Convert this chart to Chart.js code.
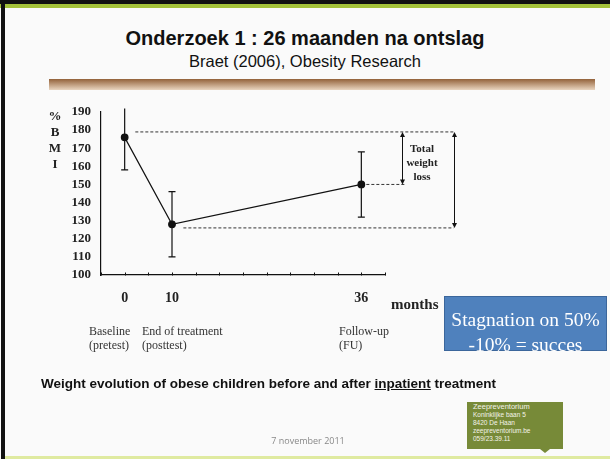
<!DOCTYPE html>
<html>
<head>
<meta charset="utf-8">
<script src="https://cdn.jsdelivr.net/npm/chart.js@4.4.0/dist/chart.umd.min.js"></script>
<style>
  html, body { margin: 0; padding: 0; }
  body { width: 610px; height: 459px; position: relative; overflow: hidden; background: #fafafa;
         font-family: "Liberation Sans", Arial, sans-serif; }
  #chart { position: absolute; left: 0; top: 0; }
  .abs { position: absolute; white-space: nowrap; }
  .serif { font-family: "Liberation Serif", "Times New Roman", serif; }
</style>
</head>
<body>
<div class="abs" style="left:0;top:0;width:610px;height:4px;background:#111"></div>
<div class="abs" style="left:0;top:4px;width:610px;height:4px;background:#a4c23a"></div>
<div class="abs" style="left:1px;top:0;width:4px;height:459px;background:#111"></div>
<div class="abs" style="left:5px;top:456px;width:605px;height:3px;background:#dfeaa0"></div>

<div class="abs" style="left:0;width:610px;top:26px;text-align:center;font-weight:bold;font-size:20px;line-height:24px;color:#111">Onderzoek 1 : 26 maanden na ontslag</div>
<div class="abs" style="left:0;width:610px;top:51px;text-align:center;font-size:16.5px;line-height:20px;color:#111">Braet (2006), Obesity Research</div>
<div class="abs" style="left:49px;top:79px;width:546px;height:11px;background:linear-gradient(#93623a,#e9d5c0)"></div>

<canvas id="chart" width="610" height="459"></canvas>

<div class="abs serif" style="left:45px;width:20px;top:108px;text-align:center;font-weight:bold;font-size:13px;line-height:16px;color:#222;white-space:normal">%<br>B<br>M<br>I</div>
<div class="abs serif" style="left:391px;top:295px;font-weight:bold;font-size:15px;line-height:18px;color:#222">months</div>
<div class="abs serif" style="left:401px;width:42px;top:141px;text-align:center;font-weight:bold;font-size:11px;line-height:14px;color:#222;white-space:normal">Total<br>weight<br>loss</div>

<div class="abs serif" style="left:89px;top:325px;font-size:12px;line-height:13.5px;color:#333">Baseline<br>(pretest)</div>
<div class="abs serif" style="left:142px;top:325px;font-size:12px;line-height:13.5px;color:#333">End of treatment<br>(posttest)</div>
<div class="abs serif" style="left:339px;top:325px;font-size:12px;line-height:13.5px;color:#333">Follow-up<br>(FU)</div>

<div class="abs serif" style="left:444px;top:296px;width:161px;height:53px;background:#4f81bd;border:1px solid #3b669b;color:#fff;font-size:19.5px;line-height:25px;text-align:center">
  <div style="margin-top:10px">Stagnation on 50%</div><div>-10% = succes</div>
</div>

<div class="abs" style="left:41px;top:376px;font-weight:bold;font-size:13.5px;line-height:16px;color:#111">Weight evolution of obese children before and after <span style="text-decoration:underline">inpatient</span> treatment</div>

<div class="abs" style="left:218px;width:180px;top:435px;text-align:center;font-family:'Open Sans',sans-serif;font-size:9px;line-height:12px;color:#888">7 november 2011</div>

<div class="abs" style="left:467px;top:402px;width:96px;height:47px;background:#778a38;color:#f4f4ea;font-size:6.5px;line-height:8px;box-sizing:border-box;padding:1px 0 0 6px">
  <div style="font-size:7.5px">Zeepreventorium</div>
  <div>Koninklijke baan 5</div>
  <div>8420 De Haan</div>
  <div>zeepreventorium.be</div>
  <div>059/23.39.11</div>
</div>
<div class="abs" style="left:540px;top:449px;width:0;height:0;border-left:5px solid transparent;border-right:5px solid transparent;border-top:4px solid #778a38"></div>

<script>
// x axis slots: tick labels at every slot, only some carry a month value
const xTickLabels = ['', '0', '', '10', '', '', '', '', '', '', '', '36', ''];
const months = ['0', '10', '36'];
const bmiMean = [176, 128, 150];
const bmiUpper = [192, 146, 168];
const bmiLower = [158, 110, 132];

// dashed reference levels and their horizontal extent (in x-axis slots)
const refLevels = [179, 150, 126];
const refFrom = [1.45, 11, 3.48];
const refTo = [14.9, 12.9, 14.9];

// double arrows: x slot, from level, to level
const arrowX = [12.7, 14.9];
const arrowFrom = [179, 179];
const arrowTo = [150, 126];

const ink = '#111';
const serif = '"Liberation Serif", "Times New Roman", serif';

const points = months.map((m, i) => ({ x: xTickLabels.indexOf(m), y: bmiMean[i] }));

const refSets = refLevels.map((lv, i) => ({
    data: [{ x: refFrom[i], y: lv }, { x: refTo[i], y: lv }],
    borderColor: '#333',
    borderWidth: 1,
    borderDash: [3, 2],
    pointRadius: 0,
    clip: false
}));

const errorBars = {
    id: 'errorBars',
    beforeDatasetsDraw(chart) {
        const { ctx, scales: { x, y } } = chart;
        ctx.save();
        ctx.strokeStyle = ink;
        ctx.lineWidth = 1.2;
        points.forEach((p, i) => {
            const px = x.getPixelForValue(p.x);
            const top = y.getPixelForValue(bmiUpper[i]);
            const bot = y.getPixelForValue(bmiLower[i]);
            ctx.beginPath();
            ctx.moveTo(px, top);
            ctx.lineTo(px, bot);
            if (bmiUpper[i] <= y.max) {
                ctx.moveTo(px - 3.5, top);
                ctx.lineTo(px + 3.5, top);
            }
            ctx.moveTo(px - 3.5, bot);
            ctx.lineTo(px + 3.5, bot);
            ctx.stroke();
        });
        ctx.restore();
    }
};

const extras = {
    id: 'extras',
    afterDraw(chart) {
        const { ctx, scales: { x, y } } = chart;
        ctx.save();
        ctx.strokeStyle = ink;
        ctx.fillStyle = ink;
        ctx.lineWidth = 1;
        // tick marks pointing up into the plot
        const b = Math.round(y.getPixelForValue(y.min)) + 0.5;
        x.ticks.forEach(t => {
            const px = Math.round(x.getPixelForValue(t.value)) + 0.5;
            ctx.beginPath();
            ctx.moveTo(px, b);
            ctx.lineTo(px, b - 3);
            ctx.stroke();
        });
        // double headed arrows
        arrowX.forEach((ax, i) => {
            const px = Math.round(x.getPixelForValue(ax)) + 0.5;
            const y1 = y.getPixelForValue(arrowFrom[i]);
            const y2 = y.getPixelForValue(arrowTo[i]);
            ctx.beginPath();
            ctx.moveTo(px, y1 + 3);
            ctx.lineTo(px, y2 - 3);
            ctx.stroke();
            ctx.beginPath();
            ctx.moveTo(px, y1); ctx.lineTo(px - 2.5, y1 + 5); ctx.lineTo(px + 2.5, y1 + 5);
            ctx.closePath();
            ctx.moveTo(px, y2); ctx.lineTo(px - 2.5, y2 - 5); ctx.lineTo(px + 2.5, y2 - 5);
            ctx.closePath();
            ctx.fill();
        });
        ctx.restore();
    }
};

new Chart(document.getElementById('chart'), {
    type: 'line',
    data: {
        datasets: [{
            data: points,
            borderColor: ink,
            borderWidth: 1.2,
            pointRadius: 3.3,
            pointBackgroundColor: ink,
            pointBorderColor: ink,
            tension: 0,
            clip: false
        }, ...refSets]
    },
    options: {
        responsive: false,
        animation: false,
        layout: { padding: { left: 51, right: 225, top: 112, bottom: 144 } },
        plugins: { legend: { display: false }, tooltip: { enabled: false } },
        scales: {
            x: {
                type: 'linear',
                min: 0,
                max: xTickLabels.length - 1,
                afterFit: s => { s.height = 40; },
                grid: { drawOnChartArea: false, drawTicks: false },
                border: { color: ink, width: 1.2 },
                ticks: {
                    stepSize: 1,
                    autoSkip: false,
                    maxRotation: 0,
                    padding: 15,
                    color: '#222',
                    font: { family: serif, size: 14, weight: 'bold' },
                    callback: v => xTickLabels[v] || ''
                }
            },
            y: {
                min: 100,
                max: 190,
                afterFit: s => { s.width = 50; },
                grid: { drawOnChartArea: false, drawTicks: false },
                border: { color: ink, width: 1.2 },
                ticks: {
                    stepSize: 10,
                    autoSkip: false,
                    padding: 10,
                    color: '#222',
                    font: { family: serif, size: 13, weight: 'bold' }
                }
            }
        }
    },
    plugins: [errorBars, extras]
});
</script>
</body>
</html>
